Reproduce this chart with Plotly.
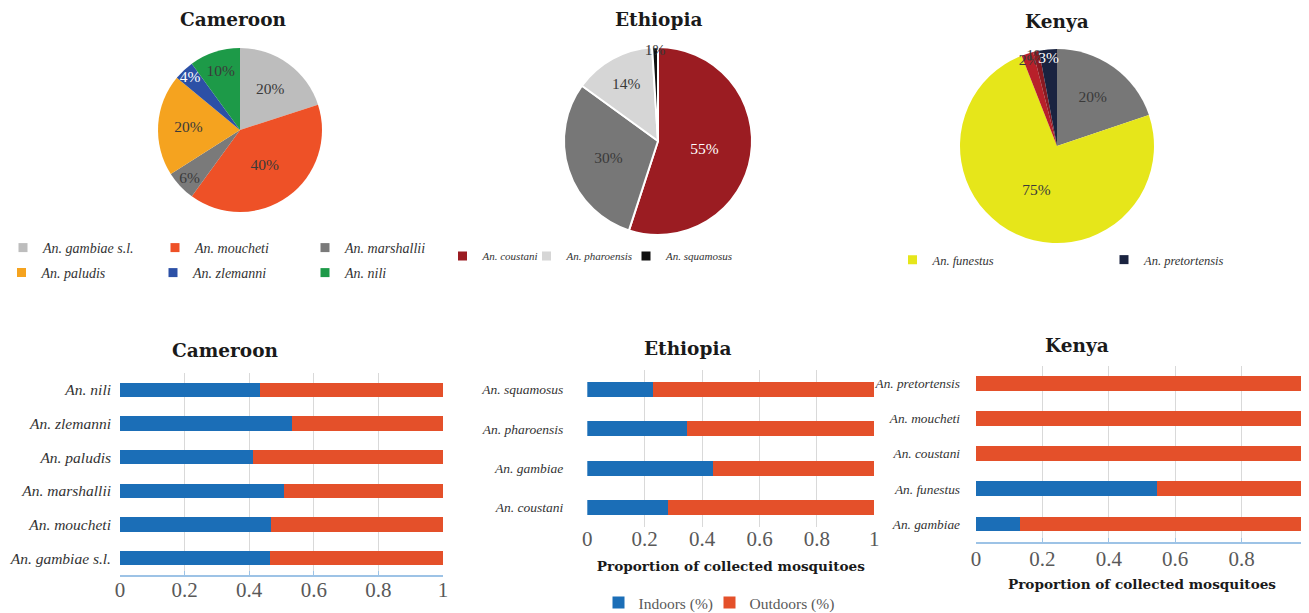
import plotly.graph_objects as go

# page offset (browser body margin) and figure size
OFF = 8
W, H = 1309 - OFF, 613 - OFF

# ---------------- data ----------------
cam_pie_labels = ["An. gambiae s.l.", "An. moucheti", "An. marshallii", "An. paludis", "An. zlemanni", "An. nili"]
cam_pie_values = [20, 40, 6, 20, 4, 10]
cam_pie_colors = ["#BDBDBD", "#EE5127", "#7A7A7A", "#F5A31F", "#2C50A6", "#1D9A48"]
cam_pie_text = ["#3A3A3A", "#3A3A3A", "#3A3A3A", "#3A3A3A", "#FFFFFF", "#3A3A3A"]

eth_pie_labels = ["An. coustani", "An. gambiae", "An. pharoensis", "An. squamosus"]
eth_pie_values = [55, 30, 14, 1]
eth_pie_colors = ["#9B1C22", "#777777", "#D6D6D6", "#111111"]
eth_pie_text = ["#FFFFFF", "#3A3A3A", "#3A3A3A", "#3A3A3A"]

ken_pie_labels = ["An. gambiae", "An. funestus", "An. coustani", "An. moucheti", "An. pretortensis"]
ken_pie_values = [20, 75, 2, 1, 3]
ken_pie_colors = ["#777777", "#E6E61A", "#B8202A", "#8A1A22", "#1A2340"]
ken_pie_text = ["#3A3A3A", "#3A3A3A", "#3A3A3A", "#3A3A3A", "#FFFFFF"]

cam_bar_species = ["An. gambiae s.l.", "An. moucheti", "An. marshallii", "An. paludis", "An. zlemanni", "An. nili"]
cam_indoors = [0.464, 0.469, 0.507, 0.412, 0.531, 0.433]

eth_bar_species = ["An. coustani", "An. gambiae", "An. pharoensis", "An. squamosus"]
eth_indoors = [0.28, 0.439, 0.348, 0.23]

ken_bar_species = ["An. gambiae", "An. funestus", "An. coustani", "An. moucheti", "An. pretortensis"]
ken_indoors = [0.132, 0.544, 0.0, 0.0, 0.0]

species_legend_names = ["An. gambiae s.l.", "An. moucheti", "An. marshallii",
                        "An. paludis", "An. zlemanni", "An. nili",
                        "An. coustani", "An. pharoensis", "An. squamosus",
                        "An. funestus", "An. pretortensis"]
species_legend_colors = ["#BDBDBD", "#EE5127", "#7A7A7A",
                         "#F5A31F", "#2C50A6", "#1D9A48",
                         "#9B1C22", "#D6D6D6", "#111111",
                         "#E6E61A", "#1A2340"]

series_names = ["Indoors (%)", "Outdoors (%)"]
series_colors = ["#1B6EB7", "#E4502A"]
x_ticks = [0, 0.2, 0.4, 0.6, 0.8, 1]
x_ticktext = ["0", "0.2", "0.4", "0.6", "0.8", "1"]
x_title = "Proportion of collected mosquitoes"

# ---------------- layout settings (pixel positions of legend entries) ----------------
species_legend_pos = [(21.5, 248, 14), (173.5, 248, 14), (323.5, 248, 14),
                      (20, 273, 14), (171.5, 273, 14), (323.5, 273, 14),
                      (461, 256, 11), (545, 256, 11), (644.5, 256, 11),
                      (911, 260, 12.5), (1122.5, 260, 12.5)]
series_legend_pos = [(617, 603), (728, 603)]

SERIF = "Liberation Serif"
TITLE_FONT = dict(family="DejaVu Serif", size=18.5, color="#1a1a1a", weight="bold")
XTITLE_FONT = dict(family="DejaVu Serif", size=13.6, color="#1a1a1a", weight="bold")


def px_x(p):
    return (p - OFF) / W


def px_y(p):
    return 1 - (p - OFF) / H


fig = go.Figure()

# ---------------- pies ----------------
def add_pie(labels, values, colors, tcolors, cx, cy, r, line_w=0):
    fig.add_trace(go.Pie(
        labels=labels, values=values, sort=False, direction="clockwise", rotation=0,
        marker=dict(colors=colors, line=dict(color="white", width=line_w)),
        text=[f"{v}%" for v in values], textinfo="text",
        textposition="inside", insidetextorientation="horizontal",
        textfont=dict(family=SERIF, size=15.5, color=tcolors),
        domain=dict(x=[px_x(cx - r), px_x(cx + r)], y=[px_y(cy + r), px_y(cy - r)]),
        showlegend=False, hoverinfo="label+percent",
    ))

add_pie(cam_pie_labels, cam_pie_values, cam_pie_colors, cam_pie_text, 240, 130, 82)
add_pie(eth_pie_labels, eth_pie_values, eth_pie_colors, eth_pie_text, 658, 141, 94, line_w=2)
add_pie(ken_pie_labels, ken_pie_values, ken_pie_colors, ken_pie_text, 1057, 146, 97)

# ---------------- bars ----------------
n_leg = [0]
layout_legends = {}


def leg_name():
    n_leg[0] += 1
    return "legend" if n_leg[0] == 1 else f"legend{n_leg[0]}"


def make_legend(mx, my, size, color="#333333", style="italic"):
    return dict(x=px_x(mx - 18.5), y=px_y(my), orientation="h", bgcolor="rgba(0,0,0,0)",
                font=dict(family=SERIF, size=size, color=color, style=style),
                xanchor="left", yanchor="middle", itemclick=False, itemdoubleclick=False)


series_legends = []
for (mx, my) in series_legend_pos:
    ln = leg_name()
    series_legends.append(ln)
    layout_legends[ln] = make_legend(mx, my, 15.5, color="#595959", style="normal")


def add_bars(species, indoors, xa, ya, width, show):
    outdoors = [round(1 - v, 3) for v in indoors]
    for name, vals, col, ln in zip(series_names, [indoors, outdoors], series_colors, series_legends):
        fig.add_trace(go.Bar(
            y=species, x=vals, orientation="h", name=name, marker=dict(color=col, line=dict(width=0)),
            width=width, xaxis=xa, yaxis=ya, showlegend=show, legend=ln,
        ))

add_bars(cam_bar_species, cam_indoors, "x", "y", 0.42, False)
add_bars(eth_bar_species, eth_indoors, "x2", "y2", 0.38, True)
add_bars(ken_bar_species, ken_indoors, "x3", "y3", 0.42, False)

# species legend entries
for n, c, (mx, my, fs) in zip(species_legend_names, species_legend_colors, species_legend_pos):
    ln = leg_name()
    layout_legends[ln] = make_legend(mx, my, fs)
    fig.add_trace(go.Scatter(
        x=[None], y=[None], mode="markers", name=n,
        marker=dict(symbol="square", size=9, color=c),
        legend=ln, showlegend=True, xaxis="x", yaxis="y", hoverinfo="skip",
    ))

xcommon = dict(range=[0, 1], tickvals=x_ticks, ticktext=x_ticktext,
               showgrid=True, gridcolor="#D9D9D9", gridwidth=1, zeroline=False,
               tickfont=dict(family=SERIF, size=21, color="#595959"))


def ycommon(size):
    return dict(showgrid=False, zeroline=False, showline=False, ticks="",
                tickfont=dict(family=SERIF, size=size, color="#333333", style="italic"))


axis_line = dict(showline=True, linecolor="#9DC3E6", linewidth=2, ticks="inside",
                 ticklen=4, tickcolor="#9DC3E6", tickwidth=1)

layout = dict(
    width=W, height=H, margin=dict(l=0, r=0, t=0, b=0, autoexpand=False),
    paper_bgcolor="white", plot_bgcolor="white", barmode="stack",
    uniformtext=dict(minsize=15.5, mode="show"),
    font=dict(family=SERIF, color="#333333"),
    xaxis=dict(domain=[px_x(120), px_x(443)], anchor="y", ticklabelstandoff=-5, **xcommon, **axis_line),
    yaxis=dict(domain=[px_y(575), px_y(373)], anchor="x", range=[-0.5, 5.5], ticklabelstandoff=8, **ycommon(15.5)),
    xaxis2=dict(domain=[px_x(587.3), px_x(874.3)], anchor="y2", **xcommon, showline=False, ticks="",
                ticklabelstandoff=-3,
                title=dict(text=x_title, font=XTITLE_FONT, standoff=11)),
    yaxis2=dict(domain=[px_y(527), px_y(370)], anchor="x2", range=[-0.5, 3.5], ticklabelstandoff=23, **ycommon(13.5)),
    xaxis3=dict(domain=[px_x(976), px_x(1308)], anchor="y3", ticklabelstandoff=-3, **xcommon, **axis_line,
                title=dict(text=x_title, font=XTITLE_FONT, standoff=10)),
    yaxis3=dict(domain=[px_y(541.7), px_y(365.6)], anchor="x3", range=[-0.5, 4.5], ticklabelstandoff=15, **ycommon(13.3)),
)
layout.update(layout_legends)

fig.update_layout(**layout)

titles = [("Cameroon", 233, 19), ("Ethiopia", 658, 19), ("Kenya", 1057, 21),
          ("Cameroon", 225, 350), ("Ethiopia", 687, 348), ("Kenya", 1077, 345)]
for t, x, y in titles:
    fig.add_annotation(text=t, x=px_x(x), y=px_y(y), xref="paper", yref="paper",
                       showarrow=False, font=TITLE_FONT, xanchor="center", yanchor="middle")

fig.write_html("out.html")
